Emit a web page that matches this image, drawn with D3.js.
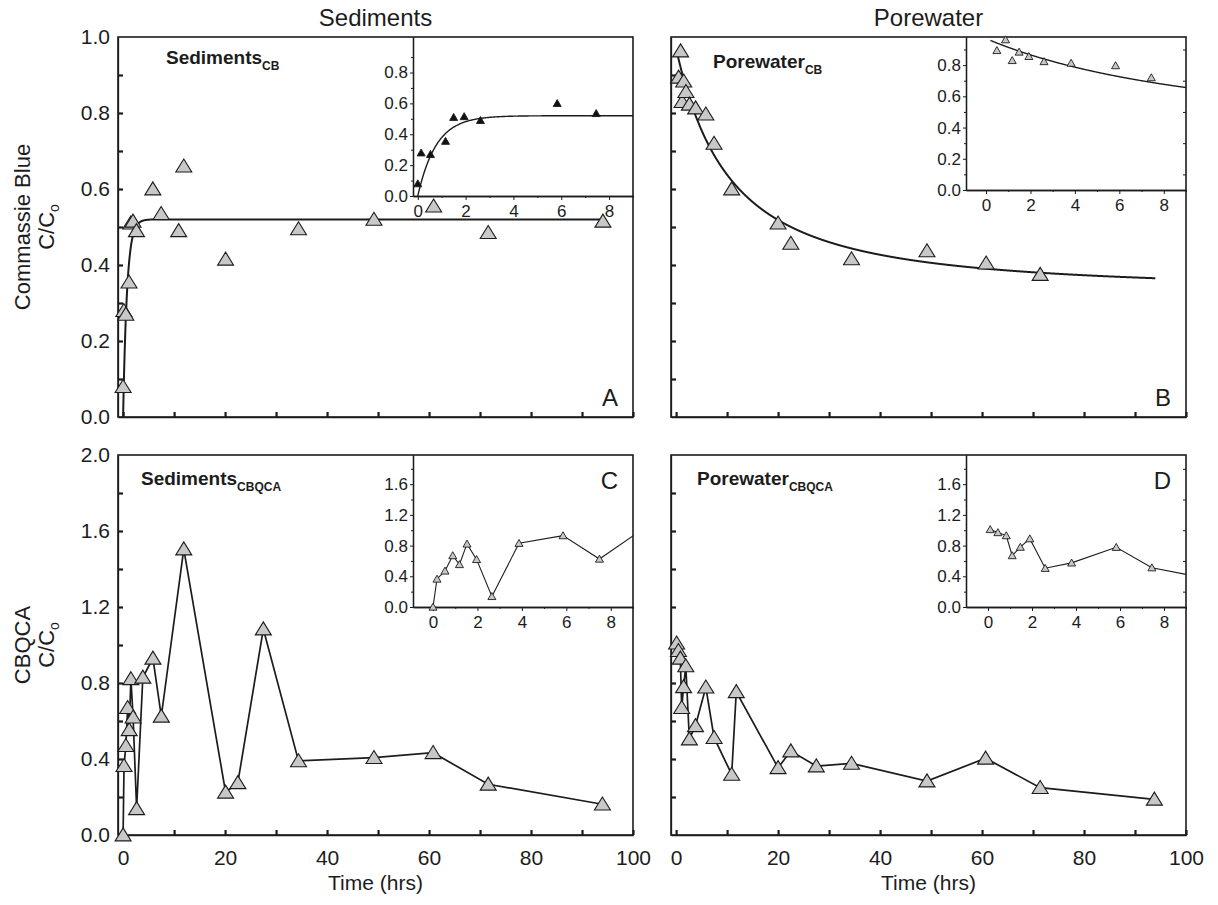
<!DOCTYPE html>
<html>
<head>
<meta charset="utf-8">
<script src="https://cdnjs.cloudflare.com/ajax/libs/d3/7.8.5/d3.min.js"></script>
<style>
  body { margin: 0; background: #ffffff; }
  svg { font-family: "Liberation Sans", Arial, sans-serif; }
</style>
</head>
<body>
<svg id="chart" width="1218" height="905"></svg>
<script>
// ---------------------------------------------------------------------------------
// DATA: sampling times (hrs) and C/Co

// A - Sediments, Commassie Blue
const sedCbHours = [0, 0.14, 0.53, 1.16, 1.5, 1.94, 2.62, 5.83, 7.46, 10.9, 11.9, 20.1, 34.4, 49.2, 60.9, 71.6, 94.1];
const sedCbRatio = [0.08, 0.28, 0.27, 0.355, 0.51, 0.515, 0.49, 0.60, 0.535, 0.49, 0.66, 0.415, 0.495, 0.52, 0.555, 0.485, 0.515];

// B - Porewater, Commassie Blue
const poreCbHours = [0.49, 0.88, 1.18, 1.49, 1.93, 2.61, 3.83, 5.83, 7.44, 10.9, 20.0, 22.5, 34.4, 49.2, 60.8, 71.4];
const poreCbRatio = [0.894, 0.963, 0.83, 0.884, 0.856, 0.823, 0.813, 0.797, 0.72, 0.60, 0.51, 0.457, 0.416, 0.437, 0.405, 0.375];

// C - Sediments, CBQCA
const sedCbqcaHours = [0, 0.18, 0.54, 0.89, 1.19, 1.53, 1.96, 2.65, 3.87, 5.85, 7.49, 11.9, 20.1, 22.5, 27.5, 34.4, 49.2, 60.8, 71.6, 94.0];
const sedCbqcaRatio = [0.0, 0.365, 0.47, 0.67, 0.554, 0.822, 0.62, 0.138, 0.83, 0.93, 0.625, 1.505, 0.225, 0.275, 1.084, 0.39, 0.407, 0.433, 0.267, 0.162];

// D - Porewater, CBQCA
const poreCbqcaHours = [0.1, 0.45, 0.83, 1.1, 1.47, 1.9, 2.6, 3.8, 5.83, 7.45, 10.9, 11.8, 20.0, 22.5, 27.5, 34.4, 49.2, 60.7, 71.4, 93.8];
const poreCbqcaRatio = [1.01, 0.97, 0.93, 0.67, 0.78, 0.89, 0.505, 0.575, 0.778, 0.512, 0.319, 0.754, 0.354, 0.442, 0.363, 0.377, 0.284, 0.404, 0.249, 0.188];

// fitted curves (parameters)
const sedCbPlateau = 0.52;
const sedCbRate = 1.3;
const poreCbStart = 0.97;
const poreCbFloor = 0.33;
const poreCbRate = 0.063;
const poreCbPower = 1.5;

// tick values and labels
const timeTicks = [0, 10, 20, 30, 40, 50, 60, 70, 80, 90, 100];
const timeLabels = [0, 20, 40, 60, 80, 100];
const cbTicks = [0.1, 0.2, 0.3, 0.4, 0.5, 0.6, 0.7, 0.8, 0.9];
const cbLabels = [0, 0.2, 0.4, 0.6, 0.8, 1.0];
const cbqcaTicks = [0.2, 0.4, 0.6, 0.8, 1.0, 1.2, 1.4, 1.6, 1.8];
const cbqcaLabels = [0, 0.4, 0.8, 1.2, 1.6, 2.0];
const insetTimeLabels = [0, 2, 4, 6, 8];
const insetTimeMinor = [1, 3, 5, 7, 9];
const insetCbLabels = [0, 0.2, 0.4, 0.6, 0.8];
const insetCbMinor = [0.1, 0.3, 0.5, 0.7, 0.9];
const insetCbqcaLabels = [0, 0.4, 0.8, 1.2, 1.6];
const insetCbqcaMinor = [0.2, 0.6, 1.0, 1.4, 1.8];

// ---------------------------------------------------------------------------------
// LAYOUT
const panelWidth = 515;
const panelHeight = 380;
const columnLeft = [118, 671];
const rowTop = [37, 455];
const insetOffset = 295;
const markerFill = "#c8c8c8";
const ink = "#1c1c1c";
const tickFont = 21;
const insetFont = 17;

const svg = d3.select("#chart");

function sedCbFit(t) {
    return sedCbPlateau * (1 - Math.exp(-sedCbRate * t));
}

function poreCbFit(t) {
    return poreCbFloor + (poreCbStart - poreCbFloor) * Math.pow(1 + poreCbRate * t, -poreCbPower);
}

// triangle marker centred on the point
function trianglePath(w, h) {
    return `M0,${-h * 0.55}L${w / 2},${h * 0.45}L${-w / 2},${h * 0.45}Z`;
}

let panels = [
    {id: "A", col: 0, row: 0, yMax: 1, hours: sedCbHours, ratio: sedCbRatio,
     yTicks: cbTicks, yLabels: cbLabels, fit: sedCbFit, fitFrom: 0, fitTo: 94.1, connect: false,
     name: "Sediments", sub: "CB", nameX: 166, nameY: 64, letterY: 406,
     inset: {height: 159, xMin: -0.2, yMax: 1.03, labels: insetCbLabels, minor: insetCbMinor,
             fill: "#111111", fitFrom: 0, mirror: false}},
    {id: "B", col: 1, row: 0, yMax: 1, hours: poreCbHours, ratio: poreCbRatio,
     yTicks: cbTicks, yLabels: null, fit: poreCbFit, fitFrom: 0.25, fitTo: 94, connect: false,
     name: "Porewater", sub: "CB", nameX: 713, nameY: 68, letterY: 406,
     inset: {height: 153, xMin: -0.9, yMax: 0.98, labels: insetCbLabels, minor: insetCbMinor,
             fill: markerFill, fitFrom: 0.2, mirror: true}},
    {id: "C", col: 0, row: 1, yMax: 2, hours: sedCbqcaHours, ratio: sedCbqcaRatio,
     yTicks: cbqcaTicks, yLabels: cbqcaLabels, fit: null, connect: true,
     name: "Sediments", sub: "CBQCA", nameX: 141, nameY: 485, letterY: 489,
     inset: {height: 152, xMin: -0.9, yMax: 1.98, labels: insetCbqcaLabels, minor: insetCbqcaMinor,
             fill: markerFill, mirror: false}},
    {id: "D", col: 1, row: 1, yMax: 2, hours: poreCbqcaHours, ratio: poreCbqcaRatio,
     yTicks: cbqcaTicks, yLabels: null, fit: null, connect: true,
     name: "Porewater", sub: "CBQCA", nameX: 697, nameY: 485, letterY: 489,
     inset: {height: 152, xMin: -1, yMax: 1.98, labels: insetCbqcaLabels, minor: insetCbqcaMinor,
             fill: markerFill, mirror: true}}
];

// applies the chart's own look to a d3 axis group
function styleAxis(g, size, strokeWidth) {
    g.attr("font-size", size).attr("font-family", null);
    g.selectAll("text").attr("fill", ink);
    g.selectAll("line").attr("stroke", ink).attr("stroke-width", strokeWidth);
    g.selectAll(".domain").attr("stroke", ink).attr("stroke-width", 1.3);
}

// ---------------------------------------------------------------------------------
// PANELS
panels.forEach(function(p) {
    const left = columnLeft[p.col];
    const top = rowTop[p.row];
    const bottom = top + panelHeight;
    const right = left + panelWidth;

    const x = d3.scaleLinear().domain([-1, 100]).range([left, right]);
    const y = d3.scaleLinear().domain([0, p.yMax]).range([bottom, top]);

    const clipId = `clip_${p.id}`;
    svg.append("clipPath").attr("id", clipId).append("rect")
        .attr("x", left).attr("y", top)
        .attr("width", panelWidth).attr("height", panelHeight);

    // inward ticks on the left and bottom edges
    svg.append("g")
        .attr("transform", `translate(${left},0)`)
        .call(d3.axisLeft(y).tickValues(p.yTicks).tickSize(-5).tickSizeOuter(0).tickFormat(""))
        .call(g => styleAxis(g, tickFont, 2.2));
    svg.append("g")
        .attr("transform", `translate(0,${bottom})`)
        .call(d3.axisBottom(x).tickValues(timeTicks).tickSize(-5).tickSizeOuter(0).tickFormat(""))
        .call(g => styleAxis(g, tickFont, 2.2));

    // tick labels only on the left column and the bottom row
    if (p.yLabels) {
        svg.append("g")
            .attr("transform", `translate(${left},0)`)
            .call(d3.axisLeft(y).tickValues(p.yLabels).tickSize(0).tickPadding(8).tickFormat(d3.format(".1f")))
            .call(g => g.select(".domain").remove())
            .call(g => styleAxis(g, tickFont, 0));
    }
    if (p.row === 1) {
        svg.append("g")
            .attr("transform", `translate(0,${bottom})`)
            .call(d3.axisBottom(x).tickValues(timeLabels).tickSize(0).tickPadding(15).tickFormat(d3.format("d")))
            .call(g => g.select(".domain").remove())
            .call(g => styleAxis(g, tickFont, 0));
    }

    // frame
    svg.append("rect")
        .attr("x", left).attr("y", top)
        .attr("width", panelWidth).attr("height", panelHeight)
        .attr("fill", "none").attr("stroke", ink).attr("stroke-width", 1.6);

    const points = d3.zip(p.hours, p.ratio);

    // ---- inset (first 9 hours) ----
    const insetLeft = left + insetOffset;
    const insetBottom = top + p.inset.height;
    const ix = d3.scaleLinear().domain([p.inset.xMin, 9]).range([insetLeft, right]);
    const iy = d3.scaleLinear().domain([0, p.inset.yMax]).range([insetBottom, top]);

    svg.append("g")
        .attr("transform", `translate(${insetLeft},0)`)
        .call(d3.axisLeft(iy).tickValues(p.inset.minor).tickSize(2).tickSizeOuter(0).tickFormat(""))
        .call(g => styleAxis(g, insetFont, 1));
    svg.append("g")
        .attr("transform", `translate(${insetLeft},0)`)
        .call(d3.axisLeft(iy).tickValues(p.inset.labels).tickSize(3).tickSizeOuter(0).tickPadding(2).tickFormat(d3.format(".1f")))
        .call(g => styleAxis(g, insetFont, 1));
    svg.append("g")
        .attr("transform", `translate(0,${insetBottom})`)
        .call(d3.axisBottom(ix).tickValues(insetTimeMinor).tickSize(2).tickSizeOuter(0).tickFormat(""))
        .call(g => styleAxis(g, insetFont, 1));
    svg.append("g")
        .attr("transform", `translate(0,${insetBottom})`)
        .call(d3.axisBottom(ix).tickValues(insetTimeLabels).tickSize(4).tickSizeOuter(0).tickPadding(5).tickFormat(d3.format("d")))
        .call(g => styleAxis(g, insetFont, 1));

    // mirrored minor ticks on the right border of the porewater insets
    if (p.inset.mirror) {
        svg.append("g")
            .attr("transform", `translate(${right},0)`)
            .call(d3.axisRight(iy).tickValues(p.inset.minor).tickSize(-3).tickSizeOuter(0).tickFormat(""))
            .call(g => g.select(".domain").remove())
            .call(g => styleAxis(g, insetFont, 1));
    }

    const insetClip = `inclip_${p.id}`;
    svg.append("clipPath").attr("id", insetClip).append("rect")
        .attr("x", insetLeft).attr("y", top)
        .attr("width", right - insetLeft).attr("height", p.inset.height);

    const insetLine = d3.line().x(d => ix(d[0])).y(d => iy(d[1]));
    if (p.connect) {
        svg.append("path")
            .datum(points)
            .attr("clip-path", `url(#${insetClip})`)
            .attr("d", insetLine)
            .attr("fill", "none").attr("stroke", ink).attr("stroke-width", 1.1);
    }
    if (p.fit) {
        const fitHours = d3.range(p.inset.fitFrom, 9.01, 0.02);
        svg.append("path")
            .datum(fitHours.map(t => [t, p.fit(t)]))
            .attr("clip-path", `url(#${insetClip})`)
            .attr("d", insetLine)
            .attr("fill", "none").attr("stroke", ink).attr("stroke-width", 1.4);
    }
    svg.append("g")
        .selectAll("path")
        .data(points.filter(d => d[0] <= 9))
        .join("path")
        .attr("transform", d => `translate(${ix(d[0])},${iy(d[1])})`)
        .attr("d", trianglePath(8, 7))
        .attr("fill", p.inset.fill)
        .attr("stroke", ink).attr("stroke-width", 0.9);

    // ---- main series ----
    const mainLine = d3.line().x(d => x(d[0])).y(d => y(d[1]));
    if (p.connect) {
        svg.append("path")
            .datum(points)
            .attr("clip-path", `url(#${clipId})`)
            .attr("d", mainLine)
            .attr("fill", "none").attr("stroke", ink).attr("stroke-width", 1.7);
    }
    if (p.fit) {
        const fitHours = d3.range(p.fitFrom, p.fitTo, 0.02);
        svg.append("path")
            .datum(fitHours.map(t => [t, p.fit(t)]))
            .attr("clip-path", `url(#${clipId})`)
            .attr("d", mainLine)
            .attr("fill", "none").attr("stroke", ink).attr("stroke-width", 2);
    }
    svg.append("g")
        .selectAll("path")
        .data(points)
        .join("path")
        .attr("transform", d => `translate(${x(d[0])},${y(d[1])})`)
        .attr("d", trianglePath(16, 13))
        .attr("fill", markerFill)
        .attr("stroke", ink).attr("stroke-width", 1.1);

    // panel name with subscript
    const name = svg.append("text")
        .attr("x", p.nameX).attr("y", p.nameY)
        .attr("font-size", 19).attr("font-weight", "bold").attr("fill", ink)
        .text(p.name);
    name.append("tspan")
        .attr("font-size", 12).attr("dy", 6)
        .text(p.sub);

    // panel letter
    svg.append("text")
        .attr("x", right - 15).attr("y", p.letterY)
        .attr("text-anchor", "end")
        .attr("font-size", 24).attr("fill", ink)
        .text(p.id);
});

// ---------------------------------------------------------------------------------
// TITLES
const columnTitles = ["Sediments", "Porewater"];
columnTitles.forEach(function(t, i) {
    svg.append("text")
        .attr("x", columnLeft[i] + panelWidth / 2).attr("y", 26)
        .attr("text-anchor", "middle")
        .attr("font-size", 24).attr("fill", ink)
        .text(t);
    svg.append("text")
        .attr("x", columnLeft[i] + panelWidth / 2).attr("y", 890)
        .attr("text-anchor", "middle")
        .attr("font-size", 21).attr("fill", ink)
        .text("Time (hrs)");
});

const rowTitles = ["Commassie Blue", "CBQCA"];
rowTitles.forEach(function(t, i) {
    const cy = rowTop[i] + panelHeight / 2;
    svg.append("text")
        .attr("transform", `translate(30,${cy}) rotate(-90)`)
        .attr("text-anchor", "middle")
        .attr("font-size", 22).attr("fill", ink)
        .text(t);
    const ratio = svg.append("text")
        .attr("transform", `translate(54,${cy}) rotate(-90)`)
        .attr("text-anchor", "middle")
        .attr("font-size", 22).attr("fill", ink)
        .text("C/C");
    ratio.append("tspan")
        .attr("font-size", 14).attr("dy", 5)
        .text("o");
});
</script>
</body>
</html>
